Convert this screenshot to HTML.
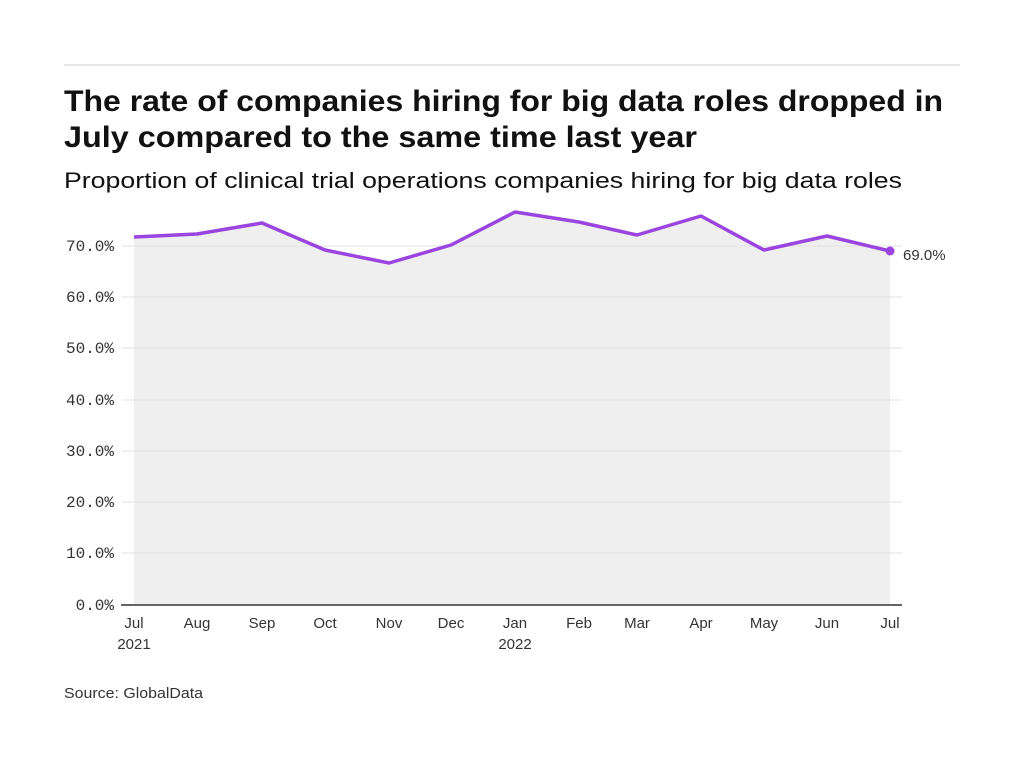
<!DOCTYPE html>
<html><head><meta charset="utf-8"><style>
body{margin:0;background:#fff;width:1024px;height:768px;overflow:hidden;font-family:"Liberation Sans",sans-serif;}
</style></head><body>
<svg width="1024" height="768" xmlns="http://www.w3.org/2000/svg">
<line x1="64" y1="65" x2="960" y2="65" stroke="#d0d0d0" stroke-width="1"/>
<text x="64" y="111" font-size="30" font-weight="bold" fill="#111" font-family="Liberation Sans, sans-serif" textLength="879" lengthAdjust="spacingAndGlyphs">The rate of companies hiring for big data roles dropped in</text>
<text x="64" y="147" font-size="30" font-weight="bold" fill="#111" font-family="Liberation Sans, sans-serif" textLength="633" lengthAdjust="spacingAndGlyphs">July compared to the same time last year</text>
<text x="64" y="188" font-size="22" fill="#111" font-family="Liberation Sans, sans-serif" textLength="838" lengthAdjust="spacingAndGlyphs">Proportion of clinical trial operations companies hiring for big data roles</text>
<polygon points="134,237 197,234 262,223 325,250 389,263 451,245 515,212 579,222 637,235 701,216 764,250 827,236 890,251 890,604 134,604" fill="#efefef"/>
<g stroke="#e0e0e0" stroke-width="1">
<line x1="122" y1="246" x2="902" y2="246"/><line x1="122" y1="297" x2="902" y2="297"/><line x1="122" y1="348" x2="902" y2="348"/><line x1="122" y1="400" x2="902" y2="400"/><line x1="122" y1="451" x2="902" y2="451"/><line x1="122" y1="502" x2="902" y2="502"/><line x1="122" y1="553" x2="902" y2="553"/>
</g>
<line x1="121" y1="605" x2="902" y2="605" stroke="#333" stroke-width="1.5"/>
<g font-family="Liberation Mono, monospace" font-size="16" fill="#333" text-anchor="end">
<text x="114" y="251">70.0%</text><text x="114" y="302">60.0%</text><text x="114" y="353">50.0%</text><text x="114" y="405">40.0%</text><text x="114" y="456">30.0%</text><text x="114" y="507">20.0%</text><text x="114" y="558">10.0%</text><text x="114" y="610">0.0%</text>
</g>
<g font-family="Liberation Sans, sans-serif" font-size="15" fill="#333" text-anchor="middle">
<text x="134" y="628">Jul</text><text x="134" y="649">2021</text><text x="197" y="628">Aug</text><text x="262" y="628">Sep</text><text x="325" y="628">Oct</text><text x="389" y="628">Nov</text><text x="451" y="628">Dec</text><text x="515" y="628">Jan</text><text x="515" y="649">2022</text><text x="579" y="628">Feb</text><text x="637" y="628">Mar</text><text x="701" y="628">Apr</text><text x="764" y="628">May</text><text x="827" y="628">Jun</text><text x="890" y="628">Jul</text>
</g>
<polyline points="134,237 197,234 262,223 325,250 389,263 451,245 515,212 579,222 637,235 701,216 764,250 827,236 890,251" fill="none" stroke="#9b45e0" stroke-width="3.5" stroke-linejoin="round"/>
<circle cx="890" cy="251" r="4.5" fill="#9b45e0"/>
<text x="903" y="260" font-family="Liberation Sans, sans-serif" font-size="15" fill="#333">69.0%</text>
<text x="64" y="698" font-family="Liberation Sans, sans-serif" font-size="15" fill="#333" textLength="139" lengthAdjust="spacingAndGlyphs">Source: GlobalData</text>
</svg>
</body></html>
